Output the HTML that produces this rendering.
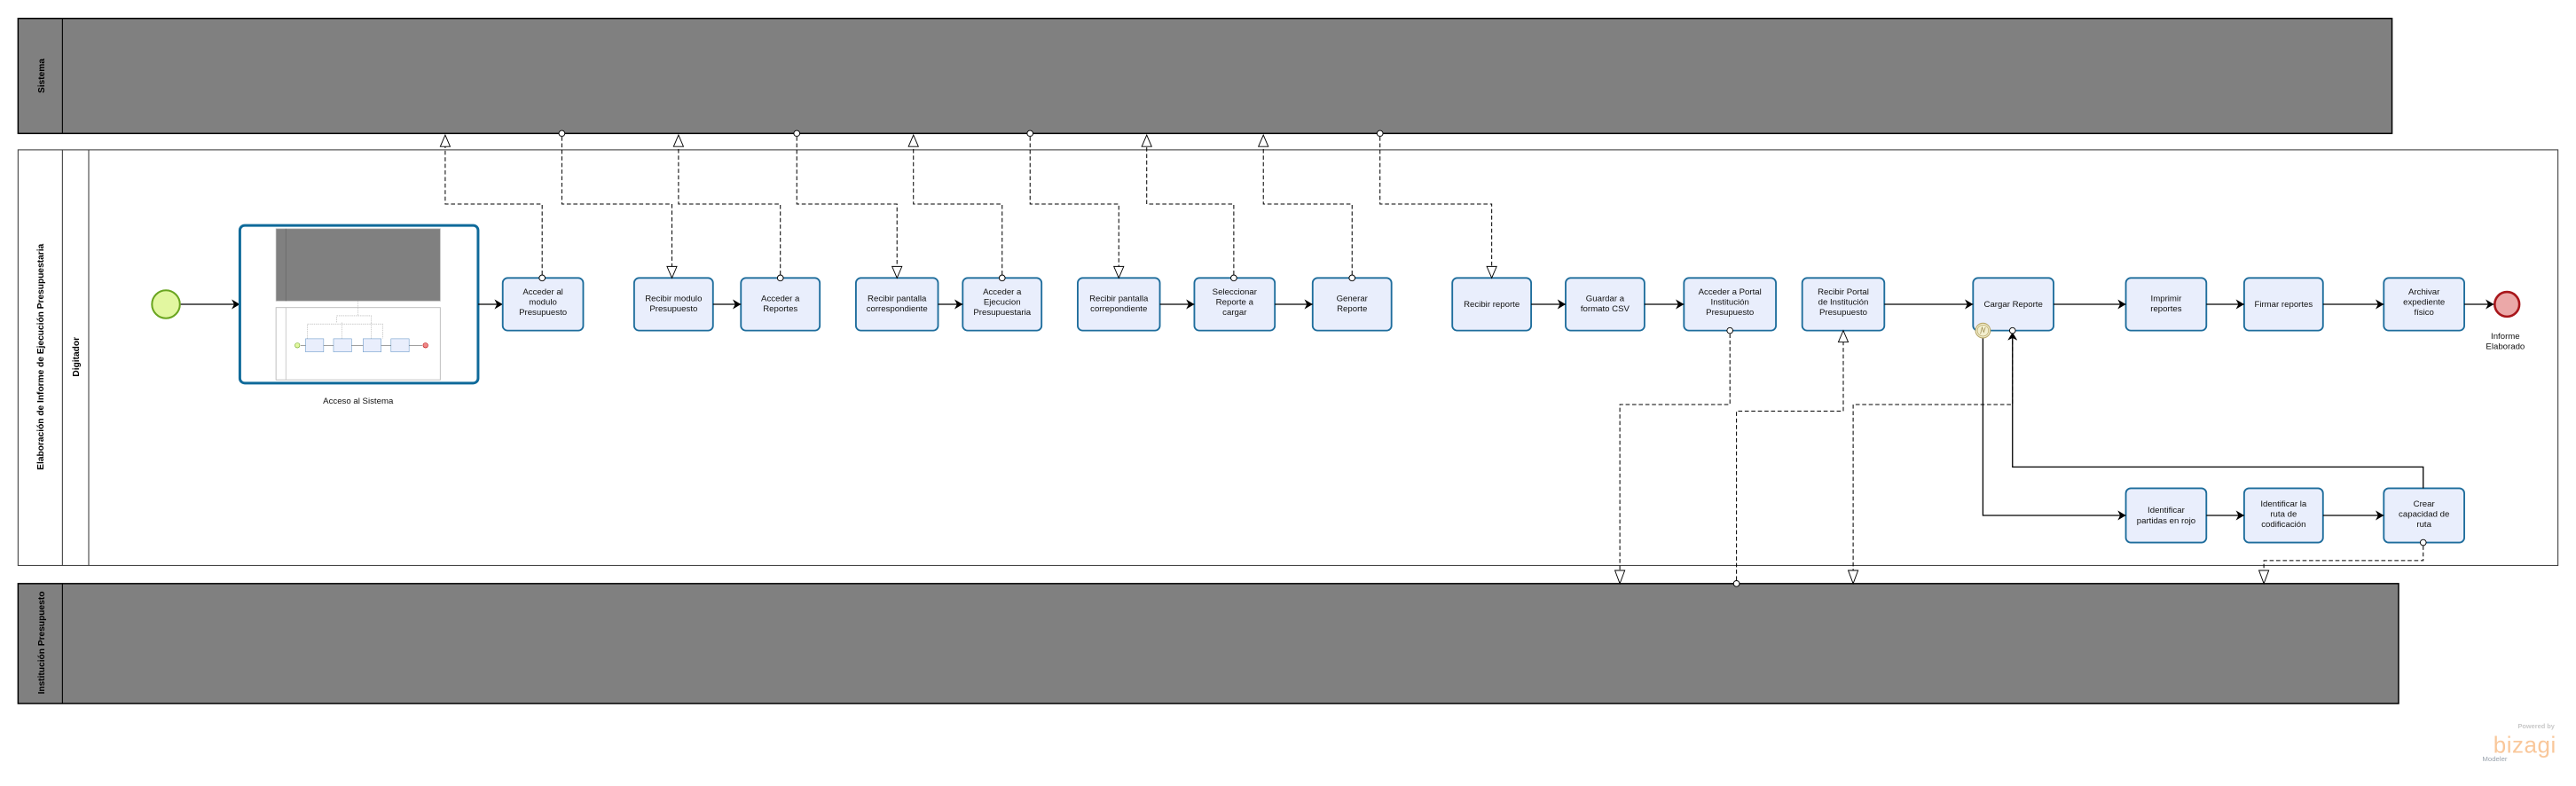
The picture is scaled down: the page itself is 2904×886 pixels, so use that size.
<!DOCTYPE html>
<html><head><meta charset="utf-8"><style>
html,body{margin:0;padding:0;background:#fff;}
svg{display:block}
text{font-family:"Liberation Sans",sans-serif;}
.t{fill:#e9eefc;stroke:#1e6d9c;stroke-width:1;}
.tt{font-size:5.2px;fill:#111;text-anchor:middle;}
.sf{stroke:#000;stroke-width:0.7;fill:none;}
.mf{stroke:#000;stroke-width:0.55;fill:none;stroke-dasharray:2.5,1.5;}
.tri{fill:#fff;stroke:#000;stroke-width:0.5;}
.cir{fill:#fff;stroke:#000;stroke-width:0.5;}
.lab{font-size:5.5px;font-weight:bold;fill:#000;text-anchor:middle;}
</style></head><body>
<svg width="2904" height="886" viewBox="0 0 1568 478" xmlns="http://www.w3.org/2000/svg">
<defs>
<marker id="ar" markerWidth="6" markerHeight="6" refX="5" refY="3" orient="auto" markerUnits="userSpaceOnUse"><path d="M0,0 L5,3 L0,6 L1.5,3 z" fill="#000"/></marker>
</defs>
<!-- Sistema pool -->
<rect x="11" y="11" width="1445" height="70" fill="#808080" stroke="#000" stroke-width="0.8"/>
<line x1="38" y1="11" x2="38" y2="81" stroke="#000" stroke-width="0.6"/>
<text class="lab" transform="translate(27,46) rotate(-90)">Sistema</text>
<!-- Main pool -->
<rect x="11" y="91" width="1546" height="253" fill="#fff" stroke="#444" stroke-width="0.6"/>
<line x1="38" y1="91" x2="38" y2="344" stroke="#444" stroke-width="0.6"/>
<line x1="54" y1="91" x2="54" y2="344" stroke="#444" stroke-width="0.6"/>
<text class="lab" transform="translate(26.5,217) rotate(-90)">Elaboración de Informe de Ejecución Presupuestaria</text>
<text class="lab" transform="translate(48,217) rotate(-90)">Digitador</text>
<!-- Institucion pool -->
<rect x="11" y="355" width="1449" height="73" fill="#808080" stroke="#000" stroke-width="0.8"/>
<line x1="38" y1="355" x2="38" y2="428" stroke="#000" stroke-width="0.6"/>
<text class="lab" transform="translate(27,391) rotate(-90)">Institución Presupuesto</text>

<!-- start -->
<circle cx="101" cy="185" r="8.5" fill="#e2f7a0" stroke="#6aa520" stroke-width="1.1"/>
<line class="sf" x1="110" y1="185" x2="146" y2="185" marker-end="url(#ar)"/>
<!-- subprocess -->
<rect x="146" y="137" width="145" height="96" rx="3" fill="#fff" stroke="#0f6a9a" stroke-width="1.6"/>
<rect x="168" y="139" width="100" height="44" fill="#808080" stroke="#bbb" stroke-width="0.4"/>
<line x1="174" y1="139" x2="174" y2="183" stroke="#666" stroke-width="0.4"/>
<rect x="168" y="187" width="100" height="44" fill="#fff" stroke="#bbb" stroke-width="0.5"/>
<line x1="174" y1="187" x2="174" y2="231" stroke="#bbb" stroke-width="0.4"/>
<path d="M218,183 V192 M205,196 V192 H226 V196 M187,206 V197 H233 V206 M208,206 V196 M226,206 V196" stroke="#aaa" stroke-width="0.3" fill="none" stroke-dasharray="0.8,0.5"/>
<circle cx="181" cy="210" r="1.5" fill="#e2f7a0" stroke="#6aa520" stroke-width="0.3"/>
<rect x="186" y="206" width="11" height="8" fill="#e9eefc" stroke="#6a9ac8" stroke-width="0.3"/>
<rect x="203" y="206" width="11" height="8" fill="#e9eefc" stroke="#6a9ac8" stroke-width="0.3"/>
<rect x="221" y="206" width="11" height="8" fill="#e9eefc" stroke="#6a9ac8" stroke-width="0.3"/>
<rect x="238" y="206" width="11" height="8" fill="#e9eefc" stroke="#6a9ac8" stroke-width="0.3"/>
<circle cx="259" cy="210" r="1.5" fill="#e88" stroke="#b00" stroke-width="0.3"/>
<path d="M183,210H186 M197,210H203 M214,210H221 M232,210H238 M249,210H257" stroke="#333" stroke-width="0.25"/>
<text class="tt" x="218" y="245.5">Acceso al Sistema</text>
<line class="sf" x1="291" y1="185" x2="306" y2="185" marker-end="url(#ar)"/>

<!-- tasks row -->
<g>
<rect class="t" x="306" y="169" width="49" height="32" rx="3"/><text class="tt" y="179"><tspan x="330.5">Acceder al</tspan><tspan x="330.5" dy="6.3">modulo</tspan><tspan x="330.5" dy="6.3">Presupuesto</tspan></text>
<rect class="t" x="386" y="169" width="48" height="32" rx="3"/><text class="tt" y="183"><tspan x="410">Recibir modulo</tspan><tspan x="410" dy="6.3">Presupuesto</tspan></text>
<rect class="t" x="451" y="169" width="48" height="32" rx="3"/><text class="tt" y="183"><tspan x="475">Acceder a</tspan><tspan x="475" dy="6.3">Reportes</tspan></text>
<rect class="t" x="521" y="169" width="50" height="32" rx="3"/><text class="tt" y="183"><tspan x="546">Recibir pantalla</tspan><tspan x="546" dy="6.3">correspondiente</tspan></text>
<rect class="t" x="586" y="169" width="48" height="32" rx="3"/><text class="tt" y="179"><tspan x="610">Acceder a</tspan><tspan x="610" dy="6.3">Ejecucion</tspan><tspan x="610" dy="6.3">Presupuestaria</tspan></text>
<rect class="t" x="656" y="169" width="50" height="32" rx="3"/><text class="tt" y="183"><tspan x="681">Recibir pantalla</tspan><tspan x="681" dy="6.3">correpondiente</tspan></text>
<rect class="t" x="727" y="169" width="49" height="32" rx="3"/><text class="tt" y="179"><tspan x="751.5">Seleccionar</tspan><tspan x="751.5" dy="6.3">Reporte a</tspan><tspan x="751.5" dy="6.3">cargar</tspan></text>
<rect class="t" x="799" y="169" width="48" height="32" rx="3"/><text class="tt" y="183"><tspan x="823">Generar</tspan><tspan x="823" dy="6.3">Reporte</tspan></text>
<rect class="t" x="884" y="169" width="48" height="32" rx="3"/><text class="tt" x="908" y="186.5">Recibir reporte</text>
<rect class="t" x="953" y="169" width="48" height="32" rx="3"/><text class="tt" y="183"><tspan x="977">Guardar a</tspan><tspan x="977" dy="6.3">formato CSV</tspan></text>
<rect class="t" x="1025" y="169" width="56" height="32" rx="3"/><text class="tt" y="179"><tspan x="1053">Acceder a Portal</tspan><tspan x="1053" dy="6.3">Institución</tspan><tspan x="1053" dy="6.3">Presupuesto</tspan></text>
<rect class="t" x="1097" y="169" width="50" height="32" rx="3"/><text class="tt" y="179"><tspan x="1122">Recibir Portal</tspan><tspan x="1122" dy="6.3">de Institución</tspan><tspan x="1122" dy="6.3">Presupuesto</tspan></text>
<rect class="t" x="1201" y="169" width="49" height="32" rx="3"/><text class="tt" x="1225.5" y="186.5">Cargar Reporte</text>
<rect class="t" x="1294" y="169" width="49" height="32" rx="3"/><text class="tt" y="183"><tspan x="1318.5">Imprimir</tspan><tspan x="1318.5" dy="6.3">reportes</tspan></text>
<rect class="t" x="1366" y="169" width="48" height="32" rx="3"/><text class="tt" x="1390" y="186.5">Firmar reportes</text>
<rect class="t" x="1451" y="169" width="49" height="32" rx="3"/><text class="tt" y="179"><tspan x="1475.5">Archivar</tspan><tspan x="1475.5" dy="6.3">expediente</tspan><tspan x="1475.5" dy="6.3">físico</tspan></text>
<!-- lower row -->
<rect class="t" x="1294" y="297" width="49" height="33" rx="3"/><text class="tt" y="312"><tspan x="1318.5">Identificar</tspan><tspan x="1318.5" dy="6.3">partidas en rojo</tspan></text>
<rect class="t" x="1366" y="297" width="48" height="33" rx="3"/><text class="tt" y="308"><tspan x="1390">Identificar la</tspan><tspan x="1390" dy="6.3">ruta de</tspan><tspan x="1390" dy="6.3">codificación</tspan></text>
<rect class="t" x="1451" y="297" width="49" height="33" rx="3"/><text class="tt" y="308"><tspan x="1475.5">Crear</tspan><tspan x="1475.5" dy="6.3">capacidad de</tspan><tspan x="1475.5" dy="6.3">ruta</tspan></text>
</g>
<!-- end -->
<circle cx="1526" cy="185" r="7.5" fill="#eba8a8" stroke="#a8161b" stroke-width="1.4"/>
<text class="tt" y="206"><tspan x="1525">Informe</tspan><tspan x="1525" dy="6.3">Elaborado</tspan></text>

<!-- sequence flows -->
<g class="sf">
<line x1="434" y1="185" x2="451" y2="185" marker-end="url(#ar)"/>
<line x1="571" y1="185" x2="586" y2="185" marker-end="url(#ar)"/>
<line x1="706" y1="185" x2="727" y2="185" marker-end="url(#ar)"/>
<line x1="776" y1="185" x2="799" y2="185" marker-end="url(#ar)"/>
<line x1="932" y1="185" x2="953" y2="185" marker-end="url(#ar)"/>
<line x1="1001" y1="185" x2="1025" y2="185" marker-end="url(#ar)"/>
<line x1="1147" y1="185" x2="1201" y2="185" marker-end="url(#ar)"/>
<line x1="1250" y1="185" x2="1294" y2="185" marker-end="url(#ar)"/>
<line x1="1343" y1="185" x2="1366" y2="185" marker-end="url(#ar)"/>
<line x1="1414" y1="185" x2="1451" y2="185" marker-end="url(#ar)"/>
<line x1="1500" y1="185" x2="1518" y2="185" marker-end="url(#ar)"/>
<line x1="1343" y1="313.5" x2="1366" y2="313.5" marker-end="url(#ar)"/>
<line x1="1414" y1="313.5" x2="1451" y2="313.5" marker-end="url(#ar)"/>
<path d="M1207,205 V313.5 H1294" marker-end="url(#ar)"/>
<path d="M1475,297 V284 H1225 V202" marker-end="url(#ar)"/>
</g>
<!-- boundary event -->
<circle cx="1207" cy="201" r="4.5" fill="#f3efcf" stroke="#b9a86a" stroke-width="0.6"/>
<circle cx="1207" cy="201" r="3.4" fill="none" stroke="#b9a86a" stroke-width="0.4"/>
<path d="M1205.5,203 L1206.5,199 L1207.5,202 L1208.5,199" fill="none" stroke="#9a8a50" stroke-width="0.4"/>

<!-- message flows top -->
<g class="mf">
<path d="M330,167 V124 H271 V89"/>
<path d="M342,83 V124 H409 V163"/>
<path d="M475,167 V124 H413 V89"/>
<path d="M485,83 V124 H546 V163"/>
<path d="M610,167 V124 H556 V89"/>
<path d="M627,83 V124 H681 V163"/>
<path d="M751,167 V124 H698 V89"/>
<path d="M823,167 V124 H769 V89"/>
<path d="M840,83 V124 H908 V163"/>
<!-- bottom -->
<path d="M1053,203 V246 H986 V347"/>
<path d="M1057,353 V250 H1122 V208"/>
<path d="M1225,203 V246 H1128 V347"/>
<path d="M1475,332 V341 H1378 V347"/>
</g>
<!-- sources (circles) -->
<g class="cir">
<circle cx="330" cy="169" r="1.8"/><circle cx="475" cy="169" r="1.8"/><circle cx="610" cy="169" r="1.8"/>
<circle cx="751" cy="169" r="1.8"/><circle cx="823" cy="169" r="1.8"/>
<circle cx="342" cy="81" r="1.8"/><circle cx="485" cy="81" r="1.8"/><circle cx="627" cy="81" r="1.8"/><circle cx="840" cy="81" r="1.8"/>
<circle cx="1053" cy="201" r="1.8"/><circle cx="1057" cy="355" r="1.8"/><circle cx="1225" cy="201" r="1.8"/><circle cx="1475" cy="330" r="1.8"/>
</g>
<!-- targets (triangles) -->
<g class="tri">
<polygon points="271,82 268,89 274,89"/><polygon points="413,82 410,89 416,89"/><polygon points="556,82 553,89 559,89"/>
<polygon points="698,82 695,89 701,89"/><polygon points="769,82 766,89 772,89"/>
<polygon points="409,169 406,162 412,162"/><polygon points="546,169 543,162 549,162"/><polygon points="681,169 678,162 684,162"/><polygon points="908,169 905,162 911,162"/>
<polygon points="986,355 983,347 989,347"/><polygon points="1128,355 1125,347 1131,347"/><polygon points="1378,355 1375,347 1381,347"/>
<polygon points="1122,201 1119,208 1125,208"/>
</g>

<!-- bizagi logo -->
<text x="1555" y="443" font-size="4" font-weight="bold" fill="#c8c8c8" text-anchor="end">Powered by</text>
<text x="1556" y="458" font-size="14" fill="#f9c79a" text-anchor="end" letter-spacing="0.3">bizagi</text>
<text x="1511" y="463" font-size="4.2" fill="#9aa3ad">Modeler</text>
</svg>
</body></html>
